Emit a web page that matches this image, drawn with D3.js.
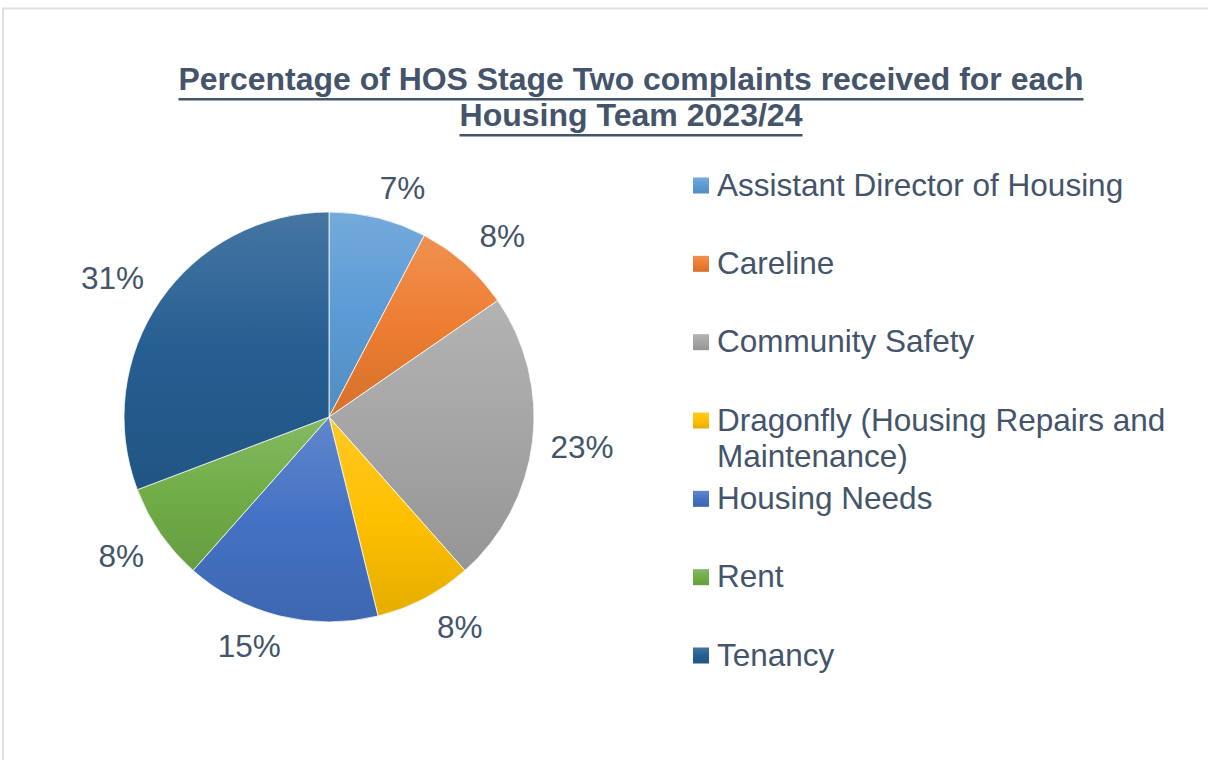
<!DOCTYPE html>
<html>
<head>
<meta charset="utf-8">
<script src="https://cdn.jsdelivr.net/npm/d3@7"></script>
<style>
  html, body { margin: 0; padding: 0; background: #fff; }
  svg { display: block; font-family: "Liberation Sans", Arial, sans-serif; }
</style>
</head>
<body>
<svg id="chart" width="1208" height="760"></svg>
<script>
(function () {
  'use strict';

  const titleLines = ["Percentage of HOS Stage Two complaints received for each", "Housing Team 2023/24"];
  const teams = [
    "Assistant Director of Housing",
    "Careline",
    "Community Safety",
    "Dragonfly (Housing Repairs and Maintenance)",
    "Housing Needs",
    "Rent",
    "Tenancy"
  ];
  // complaints per team (slice angles) and the percent labels as printed
  const complaints = [1, 1, 3, 1, 2, 1, 4];
  const percentLabels = ["7%", "8%", "23%", "8%", "15%", "8%", "31%"];
  const colors = ["#5B9BD5", "#ED7D31", "#A5A5A5", "#FFC000", "#4472C4", "#70AD47", "#255E91"];

  const textColor = "#44546A";
  const svg = d3.select("#chart");

  // outer frame
  svg.append("rect")
    .attr("x", 3).attr("y", 8.5)
    .attr("width", 1400).attr("height", 1000)
    .attr("fill", "none")
    .attr("stroke", "#dde1e6")
    .attr("stroke-width", 2);

  // gradients
  const defs = svg.append("defs");
  colors.forEach(function (c, i) {
    const g = defs.append("linearGradient")
      .attr("id", "grad" + i)
      .attr("x1", 0).attr("y1", 0).attr("x2", 0).attr("y2", 1);
    g.append("stop").attr("offset", "0%").attr("stop-color", d3.interpolateRgb(c, "#fff")(0.15));
    g.append("stop").attr("offset", "50%").attr("stop-color", c);
    g.append("stop").attr("offset", "100%").attr("stop-color", d3.interpolateRgb(c, "#000")(0.1));
  });

  // title
  const titleWidths = [905, 343];
  const titleBase = [90, 126];
  titleLines.forEach(function (t, i) {
    svg.append("text")
      .attr("x", 631).attr("y", titleBase[i])
      .attr("text-anchor", "middle")
      .attr("font-size", 31)
      .attr("font-weight", "bold")
      .attr("fill", textColor)
      .attr("textLength", titleWidths[i])
      .attr("lengthAdjust", "spacingAndGlyphs")
      .text(t);
    svg.append("rect")
      .attr("x", 631 - titleWidths[i] / 2)
      .attr("y", titleBase[i] + 8)
      .attr("width", titleWidths[i])
      .attr("height", 2.5)
      .attr("fill", textColor);
  });

  // pie
  const cx = 329, cy = 417, radius = 205;
  const pie = d3.pie().sort(null).value(d => d);
  const arcs = pie(complaints);
  const arc = d3.arc().innerRadius(0).outerRadius(radius);

  const g = svg.append("g").attr("transform", `translate(${cx},${cy})`);
  g.selectAll("path.slice")
    .data(arcs)
    .join("path")
    .attr("class", "slice")
    .attr("d", arc)
    .attr("fill", (d, i) => `url(#grad${i})`)
    .attr("stroke", "#fff")
    .attr("stroke-width", 0.75);

  // outside-end labels
  const labelFont = 31.5;
  const anchorR = radius + 10;
  g.selectAll("text.pct")
    .data(arcs)
    .join("text")
    .attr("class", "pct")
    .attr("font-size", labelFont)
    .attr("fill", textColor)
    .attr("text-anchor", "middle")
    .text((d, i) => percentLabels[i])
    .each(function (d) {
      const w = this.getComputedTextLength() + 16;
      const h = 40;
      const a = (d.startAngle + d.endAngle) / 2;
      const sx = Math.max(-1, Math.min(1, Math.sin(a) * 3));
      const sy = Math.max(-1, Math.min(1, -Math.cos(a) * 1.5));
      const ax = Math.sin(a) * anchorR;
      const ay = -Math.cos(a) * anchorR;
      const lx = ax + sx * w / 2;
      const ly = ay + sy * h / 2;
      d3.select(this).attr("x", lx).attr("y", ly + 11);
    });

  // legend
  const legendY = d3.scalePoint().domain(teams).range([185.5, 655.5]);
  const legendX = 693;
  const maxW = 470;
  const leg = svg.append("g");
  teams.forEach(function (t, i) {
    const y = legendY(t);
    leg.append("rect")
      .attr("x", legendX).attr("y", y - 8)
      .attr("width", 16).attr("height", 16)
      .attr("fill", `url(#grad${i})`);
    const txt = leg.append("text")
      .attr("x", legendX + 24)
      .attr("y", y + 10)
      .attr("font-size", labelFont)
      .attr("fill", textColor);
    // simple word wrap
    const words = t.split(" ");
    let line = [];
    let tspan = txt.append("tspan").attr("x", legendX + 24).attr("dy", 0);
    words.forEach(function (w) {
      line.push(w);
      tspan.text(line.join(" "));
      if (tspan.node().getComputedTextLength() > maxW && line.length > 1) {
        line.pop();
        tspan.text(line.join(" "));
        line = [w];
        tspan = txt.append("tspan").attr("x", legendX + 24).attr("dy", 36.5).text(w);
      }
    });
  });
})();
</script>
</body>
</html>
